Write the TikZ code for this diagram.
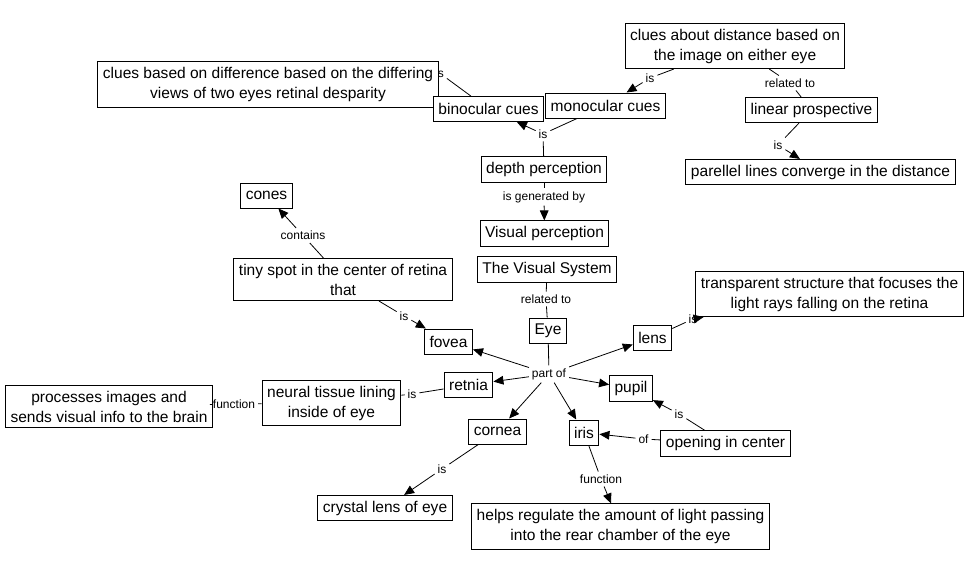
\documentclass[tikz,border=0pt]{standalone}
\usepackage{fontspec}
\setmainfont{Liberation Sans}
\usetikzlibrary{arrows.meta}
\begin{document}
\begin{tikzpicture}[x=0.75pt,y=-0.75pt,
  concept/.style={draw,line width=0.75pt,fill=white,align=center,inner xsep=3.75pt,inner ysep=4pt,minimum height=18.75pt,font=\fontsize{11.65}{15}\selectfont},
  linkphrase/.style={inner sep=2pt,font=\fontsize{9}{10}\selectfont},
  arr/.style={-{Triangle[length=7.5pt,width=6.5pt]}},
  line width=0.6pt]
\useasboundingbox (0,0) rectangle (966,569);
%depth perception part
\node[linkphrase] (lbin) at (439.5,73) {is}; %hidden behind the box
\node[concept] (diff) at (268,84.5) {clues based on difference based on the differing\\views of two eyes retinal desparity};
\node[concept] (bino) at (488.5,109) {binocular cues};
\node[concept] (mono) at (605.5,105.5) {monocular cues};
\node[concept] (dist) at (735,46) {clues about distance based on\\the image on either eye};
\node[concept] (lin) at (811.5,110) {linear prospective};
\node[concept] (par) at (820.5,172) {parellel lines converge in the distance};
\node[concept] (depth) at (544,169.5) {depth perception};
\node[concept] (visp) at (544.5,233.5) {Visual perception};
%eye part
\node[concept] (vsys) at (547,269.5) {The Visual System};
\node[concept] (eye) at (548,330.5) {Eye};
\node[concept] (lens) at (652.5,337.5) {lens};
\node[concept] (trans) at (829.5,294) {transparent structure that focuses the\\light rays falling on the retina};
\node[concept] (pupil) at (631,388.5) {pupil};
\node[concept] (iris) at (584,432.5) {iris};
\node[concept] (open) at (725.5,443.5) {opening in center};
\node[concept] (helps) at (620.5,526.5) {helps regulate the amount of light passing\\into the rear chamber of the eye};
\node[concept] (cornea) at (497.5,431.5) {cornea};
\node[concept] (crys) at (385,508) {crystal lens of eye};
\node[concept] (retnia) at (468.5,385) {retnia};
\node[concept] (neural) at (331.5,403) {neural tissue lining\\inside of eye};
\node[concept] (proc) at (109,406.5) {processes images and\\sends visual info to the brain};
\node[concept] (fovea) at (448.5,341.5) {fovea};
\node[concept] (tiny) at (343,279.5) {tiny spot in the center of retina\\that};
\node[concept] (cones) at (266.5,195.5) {cones};
%link phrases
\node[linkphrase] (ldep) at (543,134) {is};
\node[linkphrase] (lmono) at (650,78) {is};
\node[linkphrase] (lrel1) at (790,83) {related to};
\node[linkphrase] (llin) at (778,145) {is};
\node[linkphrase] (lgen) at (544,197) {is generated by};
\node[linkphrase] (lrel2) at (546,299) {related to};
\node[linkphrase] (lpart) at (549,374) {part of};
\node[linkphrase] (llens) at (693,319) {is};
\node[linkphrase] (lpup) at (679,414) {is};
\node[linkphrase] (lof) at (643.5,439) {of};
\node[linkphrase] (lfun1) at (601,479) {function};
\node[linkphrase] (lcor) at (442,469) {is};
\node[linkphrase] (lret) at (412,394) {is};
\node[linkphrase] (lfun2) at (234,404) {function};
\node[linkphrase] (lfov) at (404,316) {is};
\node[linkphrase] (lcon) at (303,235.5) {contains};
%connectors
\draw (bino) -- (lbin);
\draw (depth) -- (ldep); \draw[arr] (ldep) -- (bino); \draw (ldep) -- (mono);
\draw (dist) -- (lmono); \draw[arr] (lmono) -- (mono);
\draw (dist) -- (lrel1); \draw (lrel1) -- (lin);
\draw (lin) -- (llin); \draw[arr] (llin) -- (par);
\draw (depth) -- (lgen); \draw[arr] (lgen) -- (visp);
\draw (vsys) -- (lrel2); \draw (lrel2) -- (eye);
\draw (eye) -- (lpart);
\draw[arr] (lpart) -- (fovea);
\draw[arr] (lpart) -- (retnia);
\draw[arr] (lpart) -- (cornea);
\draw[arr] (lpart) -- (iris);
\draw[arr] (lpart) -- (pupil);
\draw[arr] (lpart) -- (lens);
\draw (lens) -- (llens); \draw[arr] (llens) -- (trans);
\draw (open) -- (lpup); \draw[arr] (lpup) -- (pupil);
\draw (open) -- (lof); \draw[arr] (lof) -- (iris);
\draw (iris) -- (lfun1); \draw[arr] (lfun1) -- (helps);
\draw (cornea) -- (lcor); \draw[arr] (lcor) -- (crys);
\draw (retnia) -- (lret); \draw (lret) -- (neural);
\draw (neural) -- (lfun2); \draw (lfun2) -- (proc);
\draw (tiny) -- (lfov); \draw[arr] (lfov) -- (fovea);
\draw (tiny) -- (lcon); \draw[arr] (lcon) -- (cones);
\end{tikzpicture}
\end{document}
